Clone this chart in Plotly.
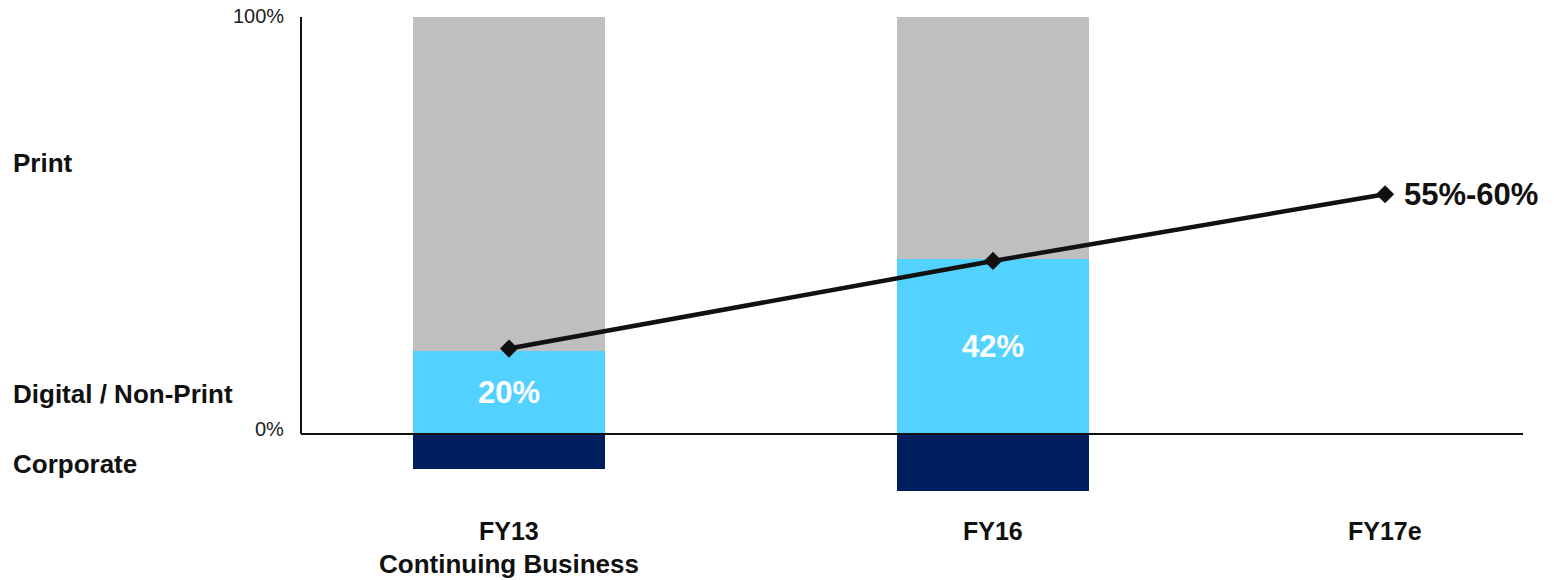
import plotly.graph_objects as go

# Revenue mix by year
categories = ["FY13", "FY16", "FY17e"]
category_sublabels = ["Continuing Business", "", ""]
print_share = [0.80, 0.58]
digital_share = [0.20, 0.42]
corporate_share = [-0.084, -0.137]
digital_labels = ["20%", "42%"]
digital_trend = [0.205, 0.415, 0.575]
trend_end_label = "55%-60%"
segment_labels = ["Print", "Digital / Non-Print", "Corporate"]
tick_labels = ["100%", "0%"]

# Layout helpers
x_pos = [1.0, 2.0, 2.81]
bar_width = 0.397
FONT = "Liberation Sans, Arial, sans-serif"

GREY = "#BFBFBF"
CYAN = "#53D2FF"
NAVY = "#001E5E"
INK = "#111111"

fig = go.Figure()

fig.add_trace(go.Bar(
    x=x_pos[:2], y=corporate_share, width=bar_width,
    marker=dict(color=NAVY, line=dict(width=0)), name="Corporate",
    hoverinfo="skip",
))
fig.add_trace(go.Bar(
    x=x_pos[:2], y=digital_share, width=bar_width,
    marker=dict(color=CYAN, line=dict(width=0)), name="Digital / Non-Print",
    text=digital_labels, textposition="inside", insidetextanchor="middle",
    textangle=0,
    textfont=dict(family=FONT, size=31, color="white", weight="bold"),
    hoverinfo="skip",
))
fig.add_trace(go.Bar(
    x=x_pos[:2], y=print_share, width=bar_width,
    marker=dict(color=GREY, line=dict(width=0)), name="Print",
    hoverinfo="skip",
))
fig.add_trace(go.Scatter(
    x=x_pos, y=digital_trend, mode="lines+markers",
    line=dict(color=INK, width=4.5),
    marker=dict(symbol="diamond", size=14, color=INK),
    hoverinfo="skip", cliponaxis=False,
))

annotations = []
# Trend end label
annotations.append(dict(
    x=x_pos[-1], y=digital_trend[-1], xref="x", yref="y",
    text=trend_end_label, showarrow=False, xanchor="left", yanchor="middle",
    xshift=17, font=dict(family=FONT, size=31, color=INK, weight="bold"),
))
# Category labels under the axis
for xp, cat, sub in zip(x_pos, categories, category_sublabels):
    annotations.append(dict(
        x=xp, y=-0.2326, xref="x", yref="y", text=cat, showarrow=False,
        xanchor="center", yanchor="middle",
        font=dict(family=FONT, size=25, color=INK, weight="bold"),
    ))
    if sub:
        annotations.append(dict(
            x=xp, y=-0.3118, xref="x", yref="y", text=sub, showarrow=False,
            xanchor="center", yanchor="middle",
            font=dict(family=FONT, size=26, color=INK, weight="bold"),
        ))
# Segment names on the left
for label, yv in zip(segment_labels, [0.6499, 0.0959, -0.0719]):
    annotations.append(dict(
        x=-0.2357, y=yv, xref="paper", yref="y", text=label, showarrow=False,
        xanchor="left", yanchor="middle", xshift=-2,
        font=dict(family=FONT, size=26, color=INK, weight="bold"),
    ))
# Percent scale labels
for label, yv in zip(tick_labels, [1.0, 0.0]):
    annotations.append(dict(
        x=0, y=yv, xref="paper", yref="y", text=label, showarrow=False,
        xanchor="right", yanchor="middle", xshift=-15,
        yshift=(1 if yv == 1.0 else 5),
        font=dict(family=FONT, size=20, color="#222222"),
    ))

shapes = [
    dict(type="line", xref="paper", yref="y", x0=0, x1=0, y0=0, y1=1.0,
         line=dict(color=INK, width=2), layer="above"),
    dict(type="line", xref="paper", yref="y", x0=0, x1=1, y0=0, y1=0,
         line=dict(color=INK, width=2), layer="above"),
]

fig.update_layout(
    width=1554, height=580,
    margin=dict(l=301, r=31, t=0, b=0),
    paper_bgcolor="white", plot_bgcolor="white",
    barmode="relative", bargap=0, showlegend=False,
    xaxis=dict(range=[0.5702, 3.095], visible=False, fixedrange=True),
    yaxis=dict(range=[-0.3501, 1.0408], visible=False, fixedrange=True),
    annotations=annotations, shapes=shapes,
    font=dict(family=FONT),
)

fig.write_html("out.html")
